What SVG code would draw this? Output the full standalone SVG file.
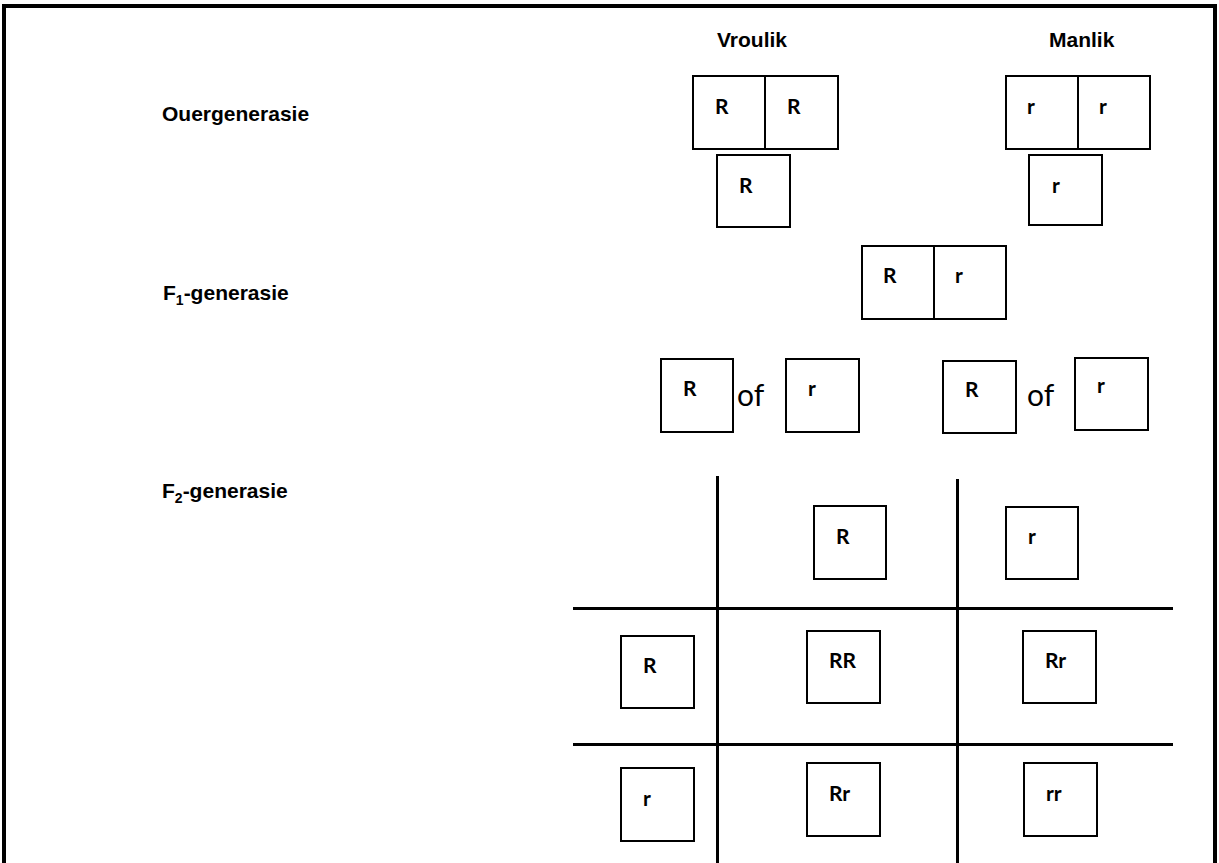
<svg xmlns="http://www.w3.org/2000/svg" width="1219" height="863" viewBox="0 0 1219 863">
<style>
.bx{fill:#fff;stroke:#000;stroke-width:2}
.al{font-family:"Lato","Liberation Sans",sans-serif;font-weight:bold;font-size:21px;fill:#000}
.of{font-family:"Lato","Liberation Sans",sans-serif;font-size:30px;fill:#000}
.hd{font-family:"Liberation Sans",Arial,sans-serif;font-weight:bold;font-size:21px;fill:#000}
.gl{stroke:#000;stroke-width:3;fill:none}
</style>
<rect id="frame" x="4" y="6" width="1211" height="900" fill="#fff" stroke="#000" stroke-width="4"/>
<g id="labels">
<text class="hd" x="717" y="47">Vroulik</text>
<text class="hd" x="1049" y="47">Manlik</text>
<text class="hd" x="162" y="121">Ouergenerasie</text>
<text class="hd" x="163" y="300">F<tspan font-size="14" dy="5">1</tspan><tspan dy="-5">-generasie</tspan></text>
<text class="hd" x="162" y="498">F<tspan font-size="14" dy="5">2</tspan><tspan dy="-5">-generasie</tspan></text>
</g>
<g id="vroulik-parent">
<rect class="bx" x="693" y="76" width="72" height="73"/>
<rect class="bx" x="765" y="76" width="73" height="73"/>
<text class="al" x="715" y="114">R</text>
<text class="al" x="787" y="114">R</text>
</g>
<g id="vroulik-gamete">
<rect class="bx" x="717" y="155" width="73" height="72"/>
<text class="al" x="739" y="193">R</text>
</g>
<g id="manlik-parent">
<rect class="bx" x="1006" y="76" width="72" height="73"/>
<rect class="bx" x="1078" y="76" width="72" height="73"/>
<text class="al" x="1027" y="114">r</text>
<text class="al" x="1099" y="114">r</text>
</g>
<g id="manlik-gamete">
<rect class="bx" x="1029" y="155" width="73" height="70"/>
<text class="al" x="1052" y="193">r</text>
</g>
<g id="f1">
<rect class="bx" x="862" y="246" width="72" height="73"/>
<rect class="bx" x="934" y="246" width="72" height="73"/>
<text class="al" x="883" y="283">R</text>
<text class="al" x="955" y="283">r</text>
</g>
<g id="f1-gametes-left">
<rect class="bx" x="661" y="359" width="72" height="73"/>
<text class="al" x="683" y="396">R</text>
<text class="of" x="737" y="406">of</text>
<rect class="bx" x="786" y="359" width="73" height="73"/>
<text class="al" x="808" y="396">r</text>
</g>
<g id="f1-gametes-right">
<rect class="bx" x="943" y="361" width="73" height="72"/>
<text class="al" x="965" y="397">R</text>
<text class="of" x="1027" y="406">of</text>
<rect class="bx" x="1075" y="358" width="73" height="72"/>
<text class="al" x="1097" y="393">r</text>
</g>
<g id="connectors">
<line class="gl" x1="717.5" y1="476" x2="717.5" y2="863"/>
<line class="gl" x1="957.5" y1="479" x2="957.5" y2="863"/>
<line class="gl" x1="573" y1="608.5" x2="1173" y2="608.5"/>
<line class="gl" x1="573" y1="744.5" x2="1173" y2="744.5"/>
</g>
<g id="f2-head-R">
<rect class="bx" x="814" y="506" width="72" height="73"/>
<text class="al" x="836" y="544">R</text>
</g>
<g id="f2-head-r">
<rect class="bx" x="1006" y="507" width="72" height="72"/>
<text class="al" x="1028" y="544">r</text>
</g>
<g id="f2-row-R">
<rect class="bx" x="621" y="636" width="73" height="72"/>
<text class="al" x="643" y="673">R</text>
</g>
<g id="f2-RR">
<rect class="bx" x="807" y="631" width="73" height="72"/>
<text class="al" x="829" y="668">RR</text>
</g>
<g id="f2-Rr1">
<rect class="bx" x="1023" y="631" width="73" height="72"/>
<text class="al" x="1045" y="668">Rr</text>
</g>
<g id="f2-row-r">
<rect class="bx" x="621" y="768" width="73" height="73"/>
<text class="al" x="643" y="806">r</text>
</g>
<g id="f2-Rr2">
<rect class="bx" x="807" y="763" width="73" height="73"/>
<text class="al" x="829" y="801">Rr</text>
</g>
<g id="f2-rr">
<rect class="bx" x="1024" y="763" width="73" height="73"/>
<text class="al" x="1046" y="801">rr</text>
</g>
</svg>
